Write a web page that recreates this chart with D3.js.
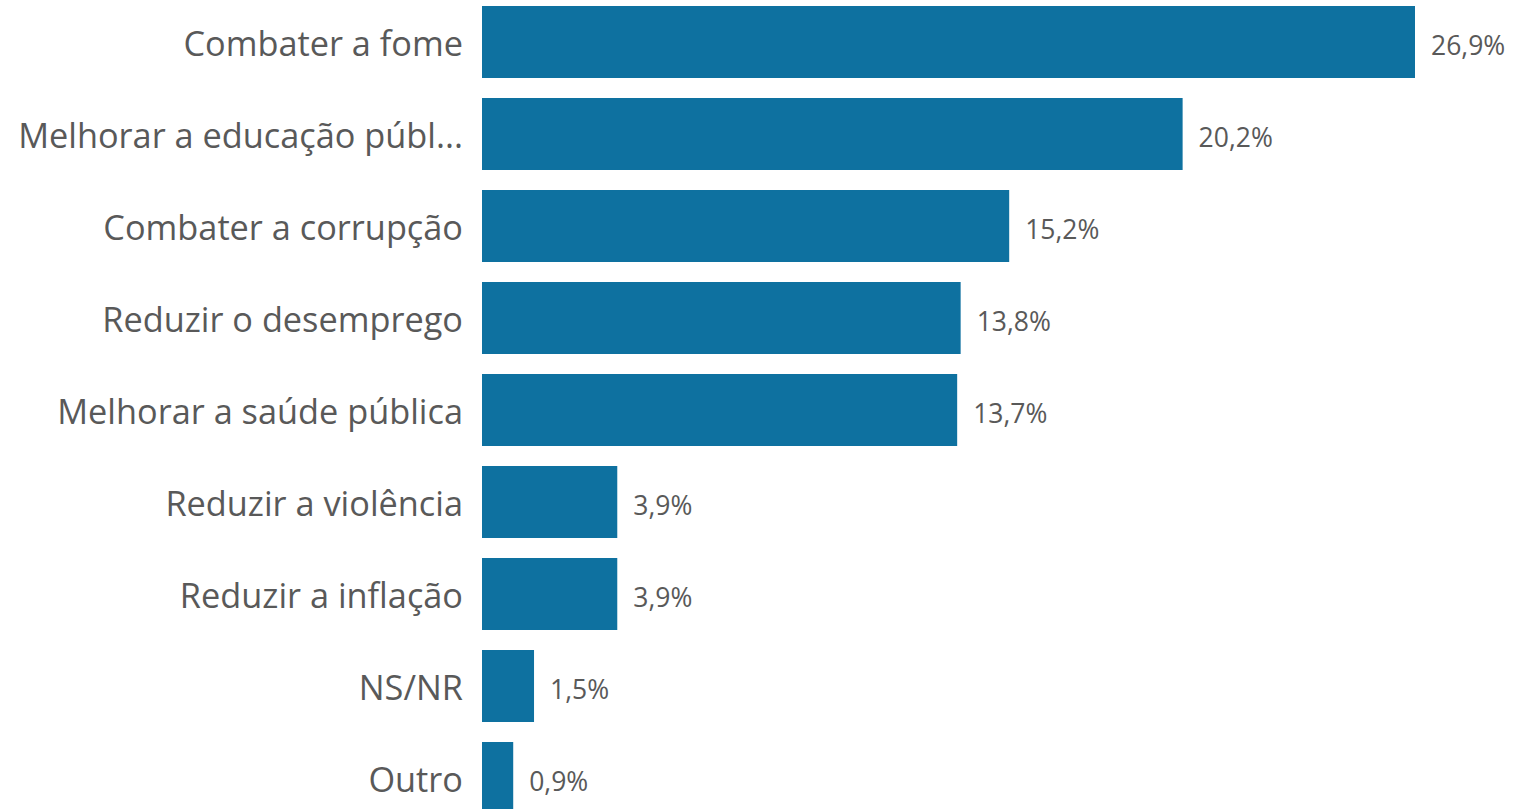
<!DOCTYPE html>
<html>
<head>
<meta charset="utf-8">
<script src="https://cdn.jsdelivr.net/npm/d3@7"></script>
<style>
  html, body { margin: 0; padding: 0; background: #ffffff; }
  svg { display: block; }
</style>
</head>
<body>
<svg id="chart" width="1514" height="809"></svg>
<script>
const categories = [
  "Combater a fome",
  "Melhorar a educação públ...",
  "Combater a corrupção",
  "Reduzir o desemprego",
  "Melhorar a saúde pública",
  "Reduzir a violência",
  "Reduzir a inflação",
  "NS/NR",
  "Outro"
];
const values = [26.9, 20.2, 15.2, 13.8, 13.7, 3.9, 3.9, 1.5, 0.9];
const valueLabels = ["26,9%", "20,2%", "15,2%", "13,8%", "13,7%", "3,9%", "3,9%", "1,5%", "0,9%"];

const data = categories.map((c, i) => ({ cat: c, val: values[i], label: valueLabels[i] }));

const svg = d3.select("#chart");
const x0 = 482, x1 = 1415;
const x = d3.scaleLinear().domain([0, d3.max(values)]).range([x0, x1]);
const p = 20 / 92;
const y = d3.scaleBand().domain(categories).range([-4, -4 + 9 * 92]).paddingInner(p).paddingOuter(p / 2);

const font = "'Open Sans', 'Noto Sans', sans-serif";

svg.selectAll("rect.bar").data(data).join("rect")
  .attr("class", "bar")
  .attr("x", x(0))
  .attr("y", d => y(d.cat))
  .attr("width", d => x(d.val) - x(0))
  .attr("height", y.bandwidth())
  .attr("fill", "#0e71a0");

svg.selectAll("text.cat").data(data).join("text")
  .attr("class", "cat")
  .attr("x", x(0) - 19)
  .attr("y", d => y(d.cat) + y.bandwidth() / 2)
  .attr("dy", "0.41em")
  .attr("text-anchor", "end")
  .attr("font-family", font)
  .attr("font-size", 34.3)
  .attr("fill", "#595959")
  .text(d => d.cat);

svg.selectAll("text.val").data(data).join("text")
  .attr("class", "val")
  .attr("x", d => x(d.val) + 16)
  .attr("y", d => y(d.cat) + y.bandwidth() / 2)
  .attr("dy", "0.5em")
  .attr("text-anchor", "start")
  .attr("font-family", font)
  .attr("font-size", 26.5)
  .attr("fill", "#595959")
  .text(d => d.label);
</script>
</body>
</html>
